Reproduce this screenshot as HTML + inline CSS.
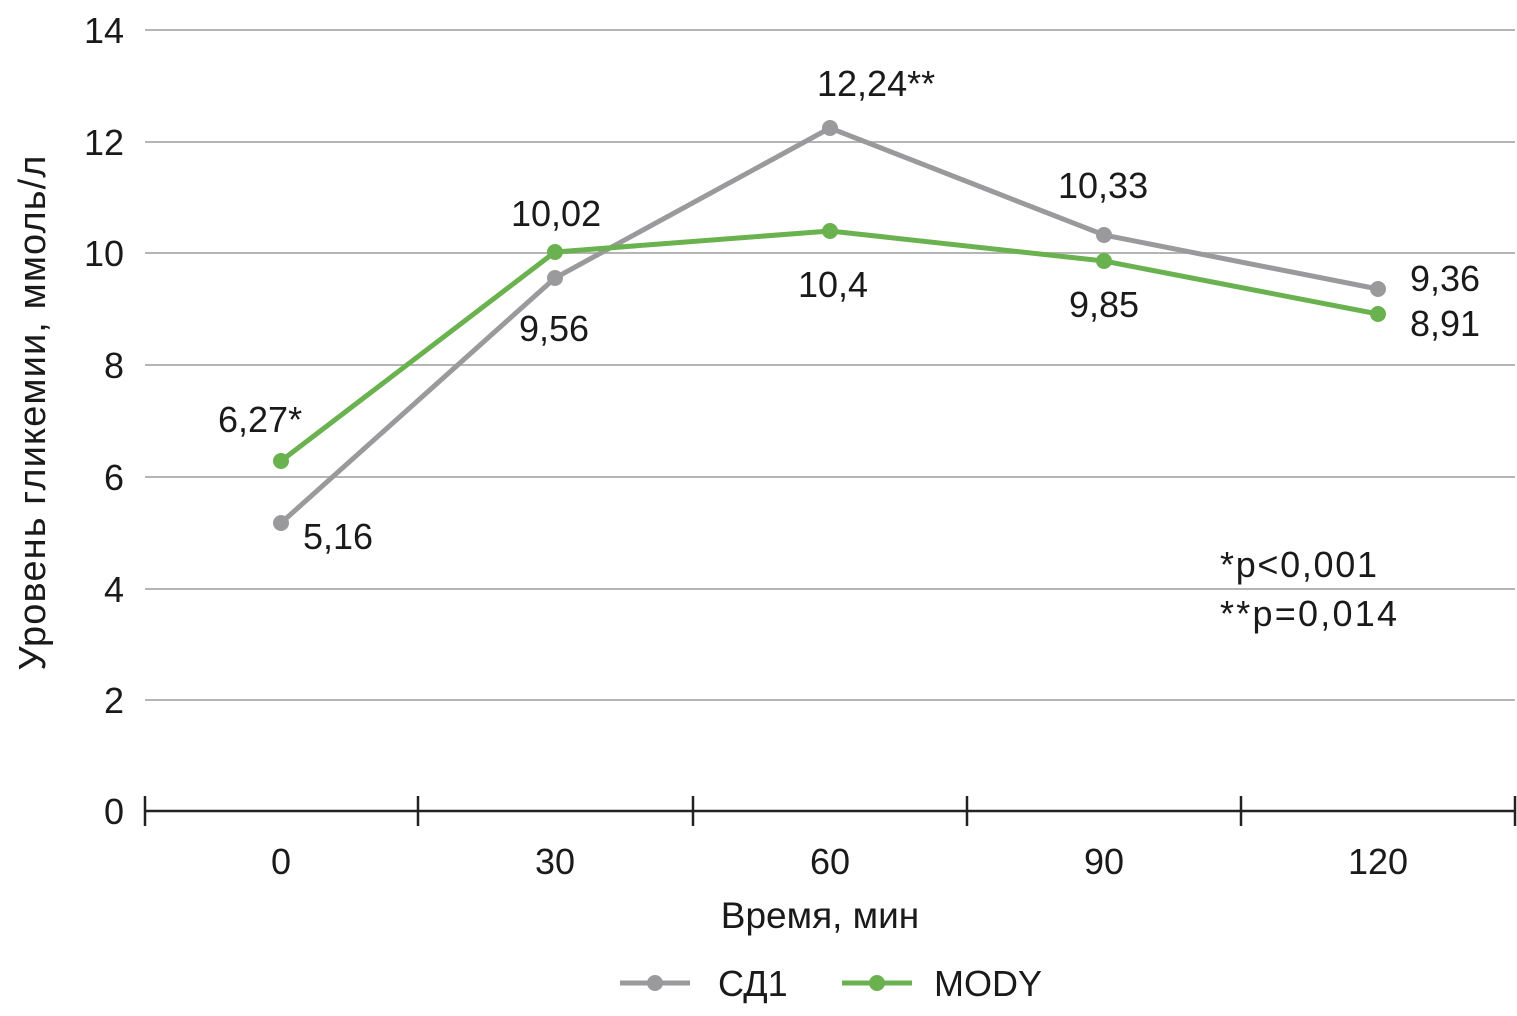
<!DOCTYPE html><html><head><style>body{margin:0;background:#fff}</style></head><body>
<svg width="1517" height="1011" xmlns="http://www.w3.org/2000/svg" font-family="Liberation Sans, DejaVu Sans, sans-serif" fill="#1a1a1a">
<g stroke="#b5b5b5" stroke-width="2">
<line x1="145" y1="30" x2="1515" y2="30"/><line x1="145" y1="142" x2="1515" y2="142"/><line x1="145" y1="253" x2="1515" y2="253"/><line x1="145" y1="365" x2="1515" y2="365"/><line x1="145" y1="477" x2="1515" y2="477"/><line x1="145" y1="589" x2="1515" y2="589"/><line x1="145" y1="700" x2="1515" y2="700"/>
</g>
<g stroke="#222" stroke-width="2.5">
<line x1="145" y1="811" x2="1515" y2="811"/>
<line x1="145" y1="796" x2="145" y2="826"/><line x1="418" y1="796" x2="418" y2="826"/><line x1="693" y1="796" x2="693" y2="826"/><line x1="967" y1="796" x2="967" y2="826"/><line x1="1241" y1="796" x2="1241" y2="826"/><line x1="1515" y1="796" x2="1515" y2="826"/>
</g>
<g font-size="36" text-anchor="end">
<text x="124" y="43">14</text><text x="124" y="155">12</text><text x="124" y="266">10</text><text x="124" y="378">8</text><text x="124" y="490">6</text><text x="124" y="602">4</text><text x="124" y="713">2</text><text x="124" y="824">0</text>
</g>
<g font-size="36" text-anchor="middle">
<text x="281" y="874">0</text><text x="555" y="874">30</text><text x="830" y="874">60</text><text x="1104" y="874">90</text><text x="1378" y="874">120</text>
<text x="820" y="928" font-size="37">Время, мин</text>
</g>
<text font-size="38" text-anchor="middle" textLength="515" transform="translate(45,413) rotate(-90)">Уровень гликемии, ммоль/л</text>
<polyline points="281,523 555,278 830,128 1104,235 1378,289" fill="none" stroke="#9a9a9c" stroke-width="5"/>
<polyline points="281,461 555,252 830,231 1104,261 1378,314" fill="none" stroke="#6ab24f" stroke-width="5"/>
<g fill="#9a9a9c"><circle cx="281" cy="523" r="8"/><circle cx="555" cy="278" r="8"/><circle cx="830" cy="128" r="8"/><circle cx="1104" cy="235" r="8"/><circle cx="1378" cy="289" r="8"/></g>
<g fill="#6ab24f"><circle cx="281" cy="461" r="8"/><circle cx="555" cy="252" r="8"/><circle cx="830" cy="231" r="8"/><circle cx="1104" cy="261" r="8"/><circle cx="1378" cy="314" r="8"/></g>
<g font-size="36">
<text x="303" y="549">5,16</text>
<text x="218" y="432">6,27*</text>
<text x="519" y="341">9,56</text>
<text x="511" y="226">10,02</text>
<text x="817" y="96">12,24**</text>
<text x="798" y="297">10,4</text>
<text x="1058" y="198">10,33</text>
<text x="1069" y="317">9,85</text>
<text x="1410" y="291">9,36</text>
<text x="1410" y="336">8,91</text>
<text x="1220" y="577" textLength="157">*p&lt;0,001</text>
<text x="1220" y="626" textLength="177">**p=0,014</text>
</g>
<line x1="620" y1="983" x2="690" y2="983" stroke="#9a9a9c" stroke-width="5"/><circle cx="655" cy="983" r="8" fill="#9a9a9c"/>
<text x="718" y="996" font-size="36">СД1</text>
<line x1="842" y1="983" x2="912" y2="983" stroke="#6ab24f" stroke-width="5"/><circle cx="877" cy="983" r="8" fill="#6ab24f"/>
<text x="934" y="996" font-size="36">MODY</text>
</svg>
</body></html>
